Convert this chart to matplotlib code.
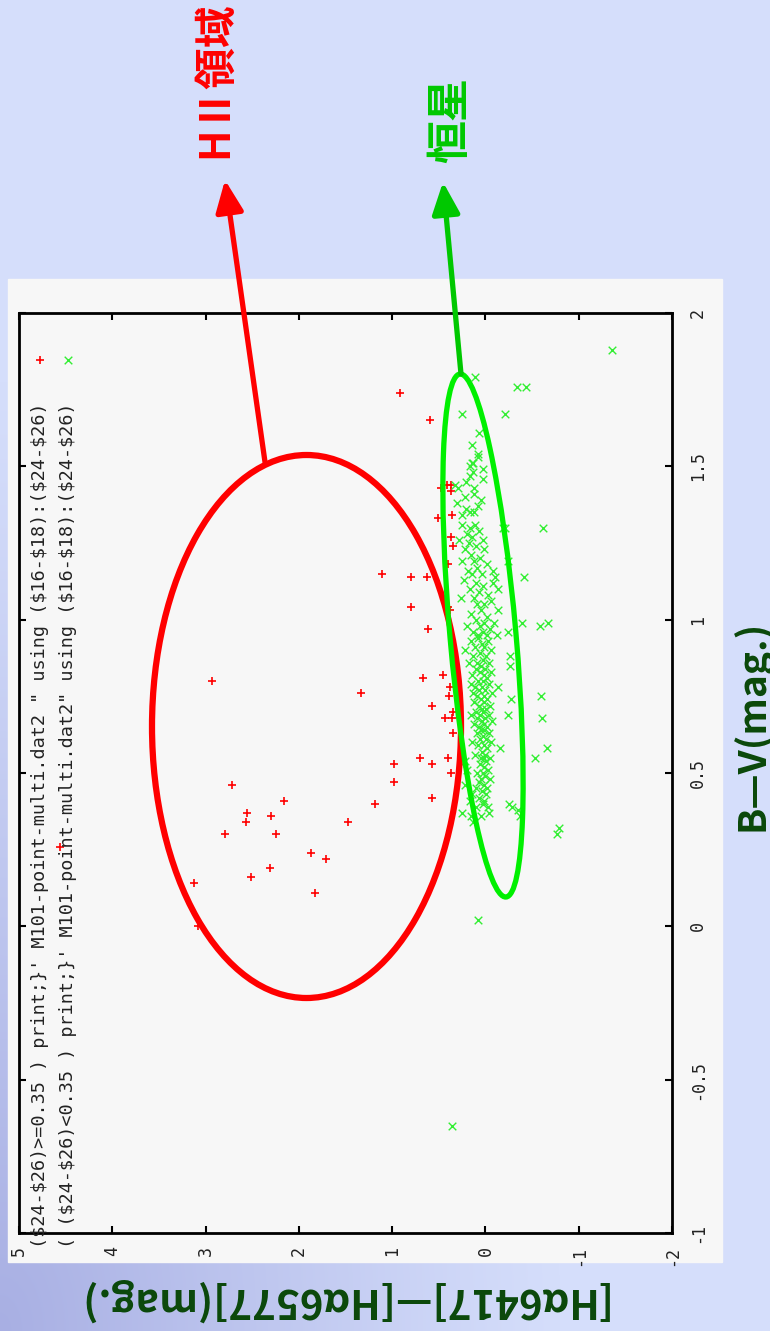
import numpy as np
import matplotlib.pyplot as plt
from matplotlib.patches import Ellipse, Rectangle

plt.rcParams['font.family'] = ['Noto Sans CJK JP', 'DejaVu Sans']

# HII regions: ($24-$26) >= 0.35   (x = Ha6417-Ha6577, y = B-V)
hii_ha = [0.92, 0.59, 0.48, 0.41, 0.37, 0.37, 0.51, 0.36, 0.37, 0.35, 0.40, 1.11,
          0.80, 0.63, 0.80, 0.40, 0.38, 0.62, 0.67, 0.46, 0.38, 0.39, 0.57, 0.43,
          0.36, 0.35, 0.35, 0.70, 0.57, 0.40, 0.98, 0.37, 0.98, 0.57, 2.93, 1.33,
          2.72, 2.16, 1.18, 2.56, 2.30, 2.57, 1.47, 2.79, 2.25, 1.87, 1.71, 2.31,
          2.51, 3.12, 1.83, 3.08, 4.56]
hii_bv = [1.74, 1.65, 1.43, 1.44, 1.44, 1.42, 1.33, 1.34, 1.27, 1.24, 1.18, 1.15,
          1.14, 1.14, 1.04, 1.04, 1.03, 0.97, 0.81, 0.82, 0.78, 0.75, 0.72, 0.68,
          0.68, 0.70, 0.63, 0.55, 0.53, 0.55, 0.53, 0.50, 0.47, 0.42, 0.80, 0.76,
          0.46, 0.41, 0.40, 0.37, 0.36, 0.34, 0.34, 0.30, 0.30, 0.24, 0.22, 0.19,
          0.16, 0.14, 0.11, 0.00, 0.26]

# stars: ($24-$26) < 0.35
star_ha = [
    0.11, -0.34, -0.44, 0.25, -0.21, 0.07, 0.14, 0.08, 0.17, 0.13, 0.03, -0.62, -0.19, -0.41,
    -0.39, -0.59, -0.67, -0.26, -0.60, -0.61, -0.53, -0.66, -0.29, -0.37, -0.77, -0.79, 0.08,
    0.36, -1.36,
    0.14, 0.08, 0.17, 0.13, 0.03, 0.21,
    0.29, 0.33, 0.12, 0.12, 0.30, 0.21, 0.25, 0.17, 0.12, 0.05, 0.22, 0.08,
    0.25, 0.17, 0.11, 0.20, 0.07, 0.14, 0.28, 0.03, 0.18, 0.10, -0.21, 0.22,
    0.02, 0.15, 0.06, 0.12, 0.25, -0.02, 0.09, 0.19, -0.08, 0.04, 0.14, -0.24,
    0.23, 0.10, -0.10, 0.03, -0.08, 0.17, 0.07, -0.03, 0.12, 0.26, -0.06, 0.02, 0.09, -0.13,
    -0.13, 0.05, 0.15, -0.02, 0.10, 0.01, -0.09, 0.06, 0.20, -0.05, 0.03, 0.13, -0.12, 0.08,
    -0.02, -0.24,
    0.08, -0.03, 0.15, 0.04, 0.01, 0.11, 0.22, -0.06, 0.06, -0.01, 0.13, 0.03, 0.09, -0.04,
    0.18, 0.05, -0.26,
    0.00, 0.10, -0.06, 0.06, 0.02, 0.14, -0.02, 0.08, 0.03, 0.16, -0.04, 0.11, 0.04, 0.00,
    0.07, -0.07, 0.13, 0.02, 0.09, -0.14,
    -0.02, 0.05, 0.12, 0.01, -0.05, 0.07, 0.04, -0.01, 0.10, 0.03, -0.04, 0.06, 0.15, 0.00,
    0.09, -0.07, 0.04, 0.02, 0.12, -0.02, 0.07, -0.24, -0.27,
    0.01, 0.05, -0.04, 0.09, 0.03, -0.01, 0.06, 0.14, -0.06, 0.02, 0.08, -0.02, 0.04, 0.00,
    0.11, -0.05, 0.05, 0.01, -0.16,
    0.22, 0.20, -0.01, 0.06, 0.02, -0.03, 0.09, 0.03, 0.00, 0.05, -0.05, 0.07, 0.01, -0.02,
    0.10, 0.22,
    0.04, -0.01, 0.14, 0.07, 0.02, 0.17, 0.03, 0.10, -0.03, -0.25, 0.25, 0.16, 0.13, -0.04,
    -0.35, 0.05]
star_bv = [
    1.79, 1.76, 1.76, 1.67, 1.67, 1.61, 1.57, 1.54, 1.50, 1.51, 1.49, 1.30, 1.30, 1.14,
    0.99, 0.98, 0.99, 0.85, 0.75, 0.68, 0.55, 0.58, 0.39, 0.36, 0.30, 0.32, 0.02,
    -0.65, 1.88,
    1.51, 1.53, 1.47, 1.48, 1.46, 1.45,
    1.43, 1.44, 1.43, 1.41, 1.38, 1.36, 1.34, 1.35, 1.35, 1.39, 1.40, 1.37,
    1.31, 1.30, 1.31, 1.28, 1.29, 1.27, 1.26, 1.26, 1.25, 1.24, 1.30, 1.23,
    1.23, 1.21, 1.20, 1.19, 1.19, 1.18, 1.17, 1.16, 1.16, 1.15, 1.15, 1.19,
    1.13, 1.12, 1.14, 1.11, 1.12, 1.10, 1.09, 1.08, 1.07, 1.07, 1.06, 1.05, 1.05, 1.10,
    1.03, 1.03, 1.02, 1.01, 1.00, 0.99, 0.99, 0.98, 0.98, 0.97, 0.96, 0.96, 0.95, 0.95,
    0.95, 0.96,
    0.94, 0.93, 0.93, 0.92, 0.91, 0.91, 0.90, 0.90, 0.89, 0.88, 0.88, 0.87, 0.86, 0.86,
    0.86, 0.85, 0.88,
    0.84, 0.84, 0.83, 0.83, 0.82, 0.82, 0.81, 0.80, 0.80, 0.79, 0.79, 0.78, 0.78, 0.77,
    0.77, 0.76, 0.76, 0.75, 0.75, 0.78,
    0.74, 0.74, 0.73, 0.73, 0.72, 0.72, 0.71, 0.71, 0.70, 0.70, 0.69, 0.69, 0.69, 0.68,
    0.68, 0.67, 0.67, 0.66, 0.66, 0.65, 0.65, 0.69, 0.74,
    0.64, 0.64, 0.63, 0.63, 0.62, 0.61, 0.61, 0.60, 0.60, 0.59, 0.59, 0.58, 0.57, 0.56,
    0.56, 0.55, 0.55, 0.55, 0.58,
    0.54, 0.51, 0.54, 0.53, 0.52, 0.51, 0.50, 0.50, 0.49, 0.48, 0.48, 0.47, 0.46, 0.45,
    0.45, 0.46,
    0.44, 0.43, 0.43, 0.42, 0.41, 0.41, 0.40, 0.39, 0.39, 0.40, 0.37, 0.36, 0.34, 0.37,
    0.38, 0.36]

ha_ticks = [5, 4, 3, 2, 1, 0, -1, -2]
bv_ticks = [-1, -0.5, 0, 0.5, 1, 1.5, 2]
ha_labels = ['5', '4', '3', '2', '1', '0', '-1', '-2']
bv_labels = ['-1', '-0.5', '0', '0.5', '1', '1.5', '2']

key1 = '($24-$26)>=0.35 ) print;}\' M101-point-multi.dat2 " using ($16-$18):($24-$26)'
key2 = '( ($24-$26)<0.35 ) print;}\' M101-point-multi.dat2" using ($16-$18):($24-$26)'

W, H = 770, 1331
fig = plt.figure(figsize=(W / 100, H / 100), dpi=100)

# slide background (light blue, darker towards the lower left)
bg = fig.add_axes([0, 0, 1, 1])
yy, xx = np.mgrid[0:H, 0:W]
d = np.sqrt((xx / 560.0) ** 2 + ((H - yy) / 950.0) ** 2)
t = np.clip(1 - d, 0, 1) ** 1.1
light = np.array([0xd5, 0xde, 0xfb]) / 255
dark = np.array([0xa8, 0xaf, 0xe3]) / 255
img = light * (1 - t[..., None]) + dark * t[..., None]
bg.imshow(img, extent=[0, W, H, 0], aspect='auto')
bg.add_patch(Rectangle((8, 279), 714, 983, color='#f7f7f7'))
bg.set_xlim(0, W)
bg.set_ylim(H, 0)
bg.axis('off')

# gnuplot plot, turned on its side
ax = fig.add_axes([19 / W, 1 - 1233 / H, (672 - 19) / W, (1233 - 313) / H])
ax.patch.set_alpha(0)
ax.scatter(hii_ha, hii_bv, marker='+', s=40, c='#ff0000', linewidths=1.2, zorder=3)
ax.scatter(star_ha, star_bv, marker='x', s=30, c='#33ee33', linewidths=1.0, zorder=3)
ax.set_xlim(5, -2)
ax.set_ylim(-1, 2)
ax.set_xticks(ha_ticks)
ax.set_xticklabels(ha_labels, rotation=90, family='DejaVu Sans Mono', fontsize=12, color='#222222')
ax.set_yticks(bv_ticks)
ax.set_yticklabels(bv_labels, rotation=90, va='center', family='DejaVu Sans Mono', fontsize=12,
                   color='#222222')
ax.tick_params(direction='in', length=5, width=1.5, top=True, bottom=True, left=True, right=True,
               labelleft=False, labelright=True)
ax.tick_params(axis='x', pad=9)
ax.tick_params(axis='y', pad=12)
for s in ax.spines.values():
    s.set_linewidth(2)

# overlay in pixel coordinates for key, ellipses, arrows and labels
ov = fig.add_axes([0, 0, 1, 1])
ov.set_xlim(0, W)
ov.set_ylim(H, 0)
ov.axis('off')

ov.text(40, 402, key1, rotation=90, ha='center', va='top', family='DejaVu Sans Mono',
        fontsize=13.3, color='#222222', parse_math=False)
ov.text(68, 402, key2, rotation=90, ha='center', va='top', family='DejaVu Sans Mono',
        fontsize=13.3, color='#222222', parse_math=False)
ov.scatter([40], [360], marker='+', s=40, c='#ff0000', linewidths=1.2)
ov.scatter([68], [360], marker='x', s=30, c='#33ee33', linewidths=1.0)

ov.add_patch(Ellipse((306.5, 726.5), 309, 543, fill=False, ec='#ff0000', lw=4.5))
ov.add_patch(Ellipse((483, 635.5), 525, 66, angle=84.97, fill=False, ec='#00f000', lw=3.8))

ov.annotate('', xy=(225, 180), xytext=(265, 462),
            arrowprops=dict(arrowstyle='-|>,head_length=0.8,head_width=0.35', color='#ff0000',
                            lw=3.8, mutation_scale=24, shrinkA=0, shrinkB=0))
ov.annotate('', xy=(443, 182), xytext=(461, 374),
            arrowprops=dict(arrowstyle='-|>,head_length=0.8,head_width=0.35', color='#00c800',
                            lw=3.8, mutation_scale=24, shrinkA=0, shrinkB=0))

ov.text(215, 80, 'HⅡ領域', rotation=90, ha='center', va='center', color='#ff0000',
        fontsize=30, fontweight='bold')
ov.text(450, 120, '恒星', rotation=90, ha='center', va='center', color='#00c800',
        fontsize=31, fontweight='bold')

ov.text(340, 1300, '[Hα6417]—[Hα6577](mag.)', rotation=180, ha='center', va='center',
        color='#0a480a', fontsize=29, fontweight='bold')
ov.text(752, 725, 'B—V(mag.)', rotation=90, ha='center', va='center',
        color='#0a480a', fontsize=28, fontweight='bold')

fig.savefig('out.png', dpi=100)
